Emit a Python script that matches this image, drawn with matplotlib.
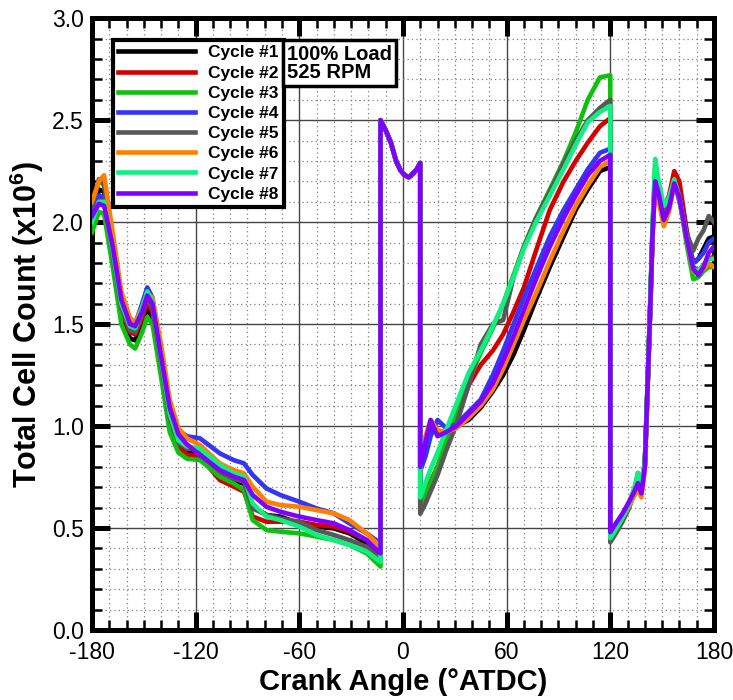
import matplotlib
matplotlib.use("Agg")
import matplotlib.pyplot as plt
import numpy as np
from matplotlib.ticker import MultipleLocator, FormatStrFormatter

# ---- data ----
labels = ["Cycle #1", "Cycle #2", "Cycle #3", "Cycle #4",
          "Cycle #5", "Cycle #6", "Cycle #7", "Cycle #8"]
colors = ["#000000", "#d40000", "#10c010", "#3535f5",
          "#585858", "#ff8000", "#10f080", "#8000ff"]

# compression / expansion part before the first jump
angles_left = [-180, -176, -173, -168, -163, -158, -155, -151, -148, -145, -140,
               -135, -130, -125, -117.5, -106, -98, -92, -87, -79, -71, -60,
               -50, -40, -31, -21, -13]
left_c1 = [2.00, 2.16, 2.15, 1.80, 1.53, 1.43, 1.42, 1.50, 1.58, 1.53, 1.27, 1.01, 0.91, 0.88,
           0.866, 0.760, 0.727, 0.719, 0.604, 0.564, 0.556, 0.523, 0.507, 0.498, 0.474, 0.425, 0.360]
left_c2 = [1.98, 2.12, 2.10, 1.82, 1.56, 1.46, 1.45, 1.53, 1.61, 1.56, 1.29, 1.02, 0.90, 0.86,
           0.850, 0.735, 0.703, 0.678, 0.556, 0.531, 0.531, 0.531, 0.515, 0.507, 0.482, 0.441, 0.368]
left_c3 = [1.95, 2.05, 2.04, 1.78, 1.50, 1.40, 1.38, 1.46, 1.535, 1.50, 1.24, 0.97, 0.87, 0.84,
           0.833, 0.752, 0.719, 0.686, 0.539, 0.490, 0.482, 0.474, 0.458, 0.441, 0.417, 0.376, 0.311]
left_c4 = [2.05, 2.13, 2.12, 1.90, 1.63, 1.51, 1.50, 1.60, 1.68, 1.63, 1.36, 1.10, 0.98, 0.95,
           0.940, 0.866, 0.833, 0.817, 0.760, 0.694, 0.662, 0.629, 0.596, 0.572, 0.523, 0.474, 0.425]
left_c5 = [2.08, 2.21, 2.18, 1.84, 1.58, 1.47, 1.46, 1.55, 1.63, 1.58, 1.31, 1.04, 0.92, 0.89,
           0.882, 0.776, 0.743, 0.727, 0.596, 0.564, 0.547, 0.531, 0.490, 0.466, 0.441, 0.408, 0.343]
left_c6 = [2.10, 2.20, 2.23, 1.95, 1.66, 1.53, 1.51, 1.58, 1.65, 1.63, 1.40, 1.13, 0.99, 0.94,
           0.907, 0.817, 0.784, 0.768, 0.703, 0.629, 0.613, 0.604, 0.588, 0.572, 0.539, 0.474, 0.408]
left_c7 = [2.00, 2.10, 2.10, 1.86, 1.60, 1.49, 1.48, 1.58, 1.66, 1.61, 1.33, 1.06, 0.93, 0.90,
           0.890, 0.809, 0.768, 0.752, 0.621, 0.556, 0.539, 0.507, 0.466, 0.441, 0.417, 0.384, 0.335]
left_c8 = [2.03, 2.09, 2.08, 1.88, 1.62, 1.50, 1.49, 1.56, 1.64, 1.60, 1.34, 1.09, 0.96, 0.91,
           0.858, 0.784, 0.752, 0.735, 0.662, 0.604, 0.580, 0.556, 0.539, 0.523, 0.490, 0.441, 0.376]

# short section around TDC, identical for all cycles
angles_mid = [-13, -10, -7, -4, -1.5, 1, 3.5, 6, 8, 10]
mid_vals = [2.50, 2.45, 2.39, 2.30, 2.255, 2.23, 2.22, 2.24, 2.26, 2.29]

# rising part between the two jumps
angles_right = [10, 13, 16, 20, 25, 31, 38, 45, 52, 58, 64, 70, 77, 85, 93, 100, 107, 114, 120]
right_c1 = [0.79, 0.90, 1.00, 0.96, 0.97, 1.00, 1.03, 1.09, 1.17, 1.25, 1.35, 1.47, 1.62, 1.78, 1.93, 2.06, 2.16, 2.25, 2.27]
right_c2 = [0.62, 0.67, 0.73, 0.80, 0.92, 1.04, 1.20, 1.30, 1.37, 1.45, 1.56, 1.68, 1.86, 2.06, 2.20, 2.30, 2.39, 2.47, 2.51]
right_c3 = [0.60, 0.66, 0.72, 0.80, 0.93, 1.06, 1.22, 1.36, 1.48, 1.60, 1.74, 1.88, 2.02, 2.16, 2.30, 2.44, 2.60, 2.71, 2.72]
right_c4 = [0.78, 0.85, 0.95, 1.03, 0.99, 1.01, 1.07, 1.13, 1.25, 1.37, 1.50, 1.63, 1.77, 1.93, 2.06, 2.16, 2.26, 2.34, 2.36]
right_c5 = [0.57, 0.62, 0.68, 0.76, 0.88, 1.01, 1.20, 1.40, 1.50, 1.52, 1.73, 1.88, 2.02, 2.15, 2.29, 2.40, 2.50, 2.56, 2.60]
right_c6 = [0.82, 0.95, 1.03, 0.98, 0.97, 0.99, 1.04, 1.10, 1.18, 1.28, 1.40, 1.52, 1.65, 1.81, 1.96, 2.08, 2.18, 2.27, 2.30]
right_c7 = [0.65, 0.72, 0.79, 0.87, 0.98, 1.11, 1.26, 1.37, 1.49, 1.60, 1.73, 1.87, 2.00, 2.13, 2.26, 2.38, 2.49, 2.54, 2.57]
right_c8 = [0.80, 0.92, 1.03, 0.95, 0.97, 1.00, 1.06, 1.12, 1.21, 1.32, 1.44, 1.57, 1.72, 1.88, 2.02, 2.13, 2.23, 2.30, 2.33]

# last part after the second jump
angles_tail = [120, 123, 127, 131, 134, 136, 138, 140, 141, 142, 143, 144.5, 146, 148,
               151, 154, 157, 160, 164, 168, 171, 174, 177, 180]
tail_c1 = [0.45, 0.49, 0.55, 0.62, 0.69, 0.74, 0.70, 0.81, 1.05, 1.30, 1.55, 1.96, 2.22, 2.16, 2.05, 2.11, 2.23, 2.17, 1.96, 1.80, 1.82, 1.87, 1.92, 1.93]
tail_c2 = [0.46, 0.50, 0.56, 0.62, 0.69, 0.74, 0.70, 0.81, 1.05, 1.30, 1.56, 1.97, 2.25, 2.17, 2.07, 2.13, 2.25, 2.20, 1.97, 1.78, 1.76, 1.79, 1.82, 1.83]
tail_c3 = [0.44, 0.48, 0.54, 0.61, 0.69, 0.76, 0.72, 0.81, 1.05, 1.30, 1.56, 1.98, 2.28, 2.18, 2.05, 2.10, 2.20, 2.12, 1.90, 1.72, 1.73, 1.76, 1.78, 1.78]
tail_c4 = [0.47, 0.51, 0.56, 0.63, 0.69, 0.73, 0.68, 0.80, 1.05, 1.30, 1.55, 1.95, 2.22, 2.15, 2.03, 2.09, 2.20, 2.13, 1.94, 1.80, 1.82, 1.85, 1.90, 1.92]
tail_c5 = [0.43, 0.47, 0.53, 0.60, 0.68, 0.77, 0.72, 0.82, 1.06, 1.31, 1.56, 1.97, 2.22, 2.15, 2.05, 2.10, 2.20, 2.10, 1.95, 1.86, 1.92, 1.96, 2.03, 2.00]
tail_c6 = [0.47, 0.50, 0.55, 0.61, 0.66, 0.69, 0.65, 0.78, 1.03, 1.28, 1.53, 1.92, 2.18, 2.10, 1.98, 2.05, 2.18, 2.12, 1.93, 1.76, 1.75, 1.77, 1.80, 1.78]
tail_c7 = [0.45, 0.49, 0.55, 0.62, 0.70, 0.77, 0.73, 0.82, 1.06, 1.31, 1.57, 2.00, 2.31, 2.20, 2.08, 2.12, 2.21, 2.12, 1.93, 1.77, 1.76, 1.79, 1.82, 1.82]
tail_c8 = [0.48, 0.52, 0.57, 0.63, 0.68, 0.72, 0.67, 0.80, 1.05, 1.30, 1.55, 1.95, 2.20, 2.14, 2.01, 2.07, 2.19, 2.12, 1.93, 1.77, 1.74, 1.78, 1.85, 1.88]

lefts = [left_c1, left_c2, left_c3, left_c4, left_c5, left_c6, left_c7, left_c8]
rights = [right_c1, right_c2, right_c3, right_c4, right_c5, right_c6, right_c7, right_c8]
tails = [tail_c1, tail_c2, tail_c3, tail_c4, tail_c5, tail_c6, tail_c7, tail_c8]

plt.rcParams["font.family"] = ["Liberation Sans", "DejaVu Sans"]
plt.rcParams["axes.unicode_minus"] = False
plt.rcParams["mathtext.fontset"] = "custom"
plt.rcParams["mathtext.rm"] = "Liberation Sans"
plt.rcParams["mathtext.bf"] = "Liberation Sans:bold"

fig = plt.figure(figsize=(7.33, 7.0), dpi=100)
ax = fig.add_axes([0.1255, 0.1, 0.8485, 0.874])

angle_all = np.concatenate([angles_left, angles_mid, angles_right, angles_tail])
for i in range(8):
    vals = np.concatenate([lefts[i], mid_vals, rights[i], tails[i]])
    ax.plot(angle_all, vals, color=colors[i], lw=3.3, label=labels[i],
            solid_joinstyle="round", zorder=3)

ax.set_xlim(-180, 180)
ax.set_ylim(0, 3.0)
ax.xaxis.set_major_locator(MultipleLocator(60))
ax.xaxis.set_minor_locator(MultipleLocator(10))
ax.yaxis.set_major_locator(MultipleLocator(0.5))
ax.yaxis.set_minor_locator(MultipleLocator(0.1))
ax.yaxis.set_major_formatter(FormatStrFormatter("%.1f"))

ax.grid(which="major", color="#454545", lw=1.0, ls="-", zorder=1)
ax.grid(which="minor", color="#808080", lw=0.9, ls=(0, (1, 2.5)), zorder=1)
ax.set_axisbelow(True)

ax.tick_params(which="both", direction="in", top=True, right=True)
ax.tick_params(which="major", length=13, width=3.6, labelsize=16.5)
ax.tick_params(axis="x", which="major", pad=8)
ax.tick_params(axis="y", which="major", pad=6)
ax.tick_params(which="minor", length=7, width=1.8)
for s in ax.spines.values():
    s.set_linewidth(3.6)

ax.set_xlabel("Crank Angle (°ATDC)", fontsize=21, fontweight="bold", labelpad=3)
ax.set_ylabel(r"Total Cell Count (x10$^{\mathbf{6}}$)", fontsize=22,
              fontweight="bold", labelpad=4)

leg = ax.legend(loc="upper left", bbox_to_anchor=(0.034, 0.964),
                prop={"weight": "bold", "size": 12.5}, handlelength=4.4,
                handletextpad=0.8, labelspacing=0.29, borderpad=0.29,
                borderaxespad=0, fancybox=False, framealpha=1, edgecolor="black")
leg.get_frame().set_linewidth(3)
for h in leg.get_lines():
    h.set_linewidth(3.3)
leg.set_zorder(5)

ax.text(0.314, 0.957, "100% Load\n525 RPM", transform=ax.transAxes,
        ha="left", va="top", fontsize=14.5, fontweight="bold", linespacing=0.95,
        zorder=6, bbox=dict(boxstyle="square,pad=0.2", fc="white", ec="black", lw=2.5))

fig.savefig("out.png", dpi=100)
